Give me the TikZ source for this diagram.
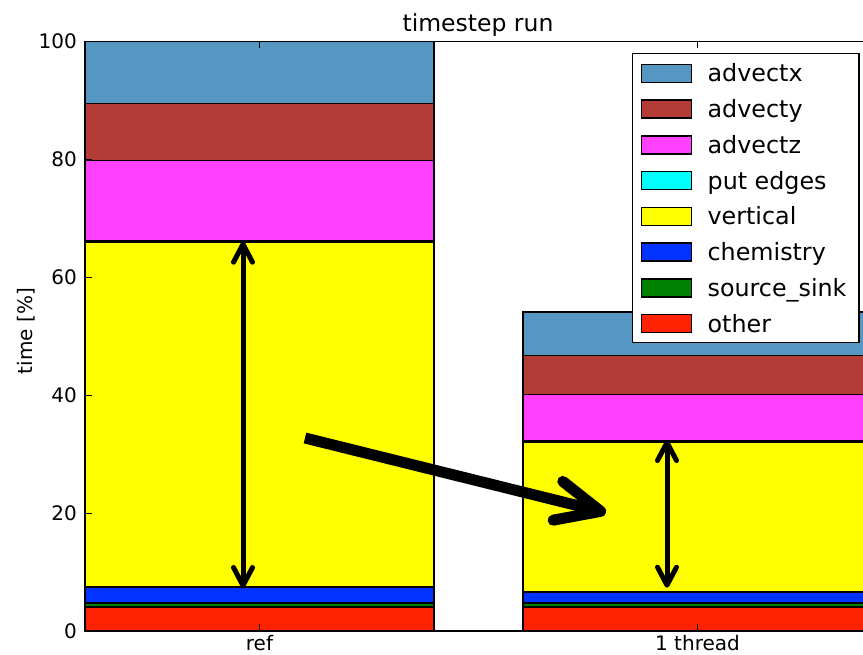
\documentclass[tikz,border=0pt]{standalone}
\usepackage{fontspec}
\setmainfont{DejaVu Sans}
\usetikzlibrary{arrows.meta,positioning}

\definecolor{cAdvx}{RGB}{85,150,195}
\definecolor{cAdvy}{RGB}{180,60,55}
\definecolor{cAdvz}{RGB}{255,64,255}
\definecolor{cEdge}{RGB}{0,255,255}
\definecolor{cVert}{RGB}{255,255,0}
\definecolor{cChem}{RGB}{0,51,255}
\definecolor{cSrc}{RGB}{0,128,0}
\definecolor{cOther}{RGB}{255,34,0}

\tikzset{
    seg/.style={draw=black, line width=1.5pt},
    tickmark/.style={line width=1pt},
    ticklabel/.style={font=\fontsize{20}{24}\selectfont, inner sep=0pt},
    legpatch/.style={draw=black, line width=1.5pt, minimum width=50pt, minimum height=18pt, inner sep=0pt},
    legtext/.style={font=\fontsize{23.8}{28}\selectfont, inner sep=0pt, text height=17pt, text depth=0pt},
    spanarrow/.style={line width=5pt, {Straight Barb[round,length=18pt,width=19pt]}-{Straight Barb[round,length=18pt,width=19pt]}},
    bigarrow/.style={line width=11pt, -{Straight Barb[round,length=44pt,width=40pt]}}
}

\begin{document}
\begin{tikzpicture}[x=1pt, y=5.895pt]
    \useasboundingbox (-85,-4.07) rectangle (778,107.04);
    \clip (-85,-4.07) rectangle (778,107.04);

    % Stacked bars: ref
    \foreach \lo/\hi/\col in {0/4.1/cOther, 4.1/4.75/cSrc, 4.75/7.5/cChem, 7.5/66.0/cVert,
        66.0/66.15/cEdge, 66.15/79.8/cAdvz, 79.8/89.5/cAdvy, 89.5/100/cAdvx}{
        \filldraw[seg, fill=\col] (0,\lo) rectangle (349,\hi);
    }
    % Stacked bars: 1 thread
    \foreach \lo/\hi/\col in {0/4.1/cOther, 4.1/4.75/cSrc, 4.75/6.6/cChem, 6.6/32.05/cVert,
        32.05/32.2/cEdge, 32.2/40.1/cAdvz, 40.1/46.75/cAdvy, 46.75/54.15/cAdvx}{
        \filldraw[seg, fill=\col] (438,\lo) rectangle (787,\hi);
    }

    % Axes frame and ticks
    \draw[line width=1.5pt] (0,0) rectangle (787,100);
    \foreach \v in {0,20,...,100}{
        \draw[tickmark] (0,\v) -- ++(6.6,0);
        \node[ticklabel, anchor=east] (ytick\v) at (-8,\v) {\v};
    }
    \foreach \x/\lab/\nm in {174.5/ref/xref, 612.5/1 thread/xthr}{
        \draw[tickmark] (\x,0) -- ++(0,1.12);
        \draw[tickmark] (\x,100) -- ++(0,-1.12);
        \node[ticklabel, anchor=base] (\nm) at (\x,-3.35) {\lab};
    }

    % Title and axis label
    \node[font=\fontsize{23.5}{28}\selectfont, anchor=base, inner sep=0pt] (title) at (393,101.66) {timestep run};
    \node[ticklabel, rotate=90, anchor=base] (ylab) at (-52.7,50.9) {time [\%]};

    % Legend
    \draw[line width=1.5pt, fill=white] (547.7,48.9) rectangle (774,98.0);
    \foreach \lab/\col [count=\i from 0] in {advectx/cAdvx, advecty/cAdvy, advectz/cAdvz,
        put edges/cEdge, vertical/cVert, chemistry/cChem, source\_sink/cSrc, other/cOther}{
        \node[legpatch, fill=\col] (patch\i) at (581.7,{94.60-\i*6.068}) {};
        \node[legtext, right=15pt of patch\i] (leg\i) {\lab};
    }

    % Arrows
    \coordinate (refTop) at (158,66.04);
    \coordinate (refBot) at (158,7.29);
    \coordinate (thrTop) at (582,32.4);
    \coordinate (thrBot) at (582,7.35);
    \coordinate (bigStart) at (220,32.74);
    \coordinate (bigEnd) at (521,20.07);
    \draw[spanarrow] (refBot) -- (refTop);
    \draw[spanarrow] (thrBot) -- (thrTop);
    \draw[bigarrow] (bigStart) -- (bigEnd);
\end{tikzpicture}
\end{document}
